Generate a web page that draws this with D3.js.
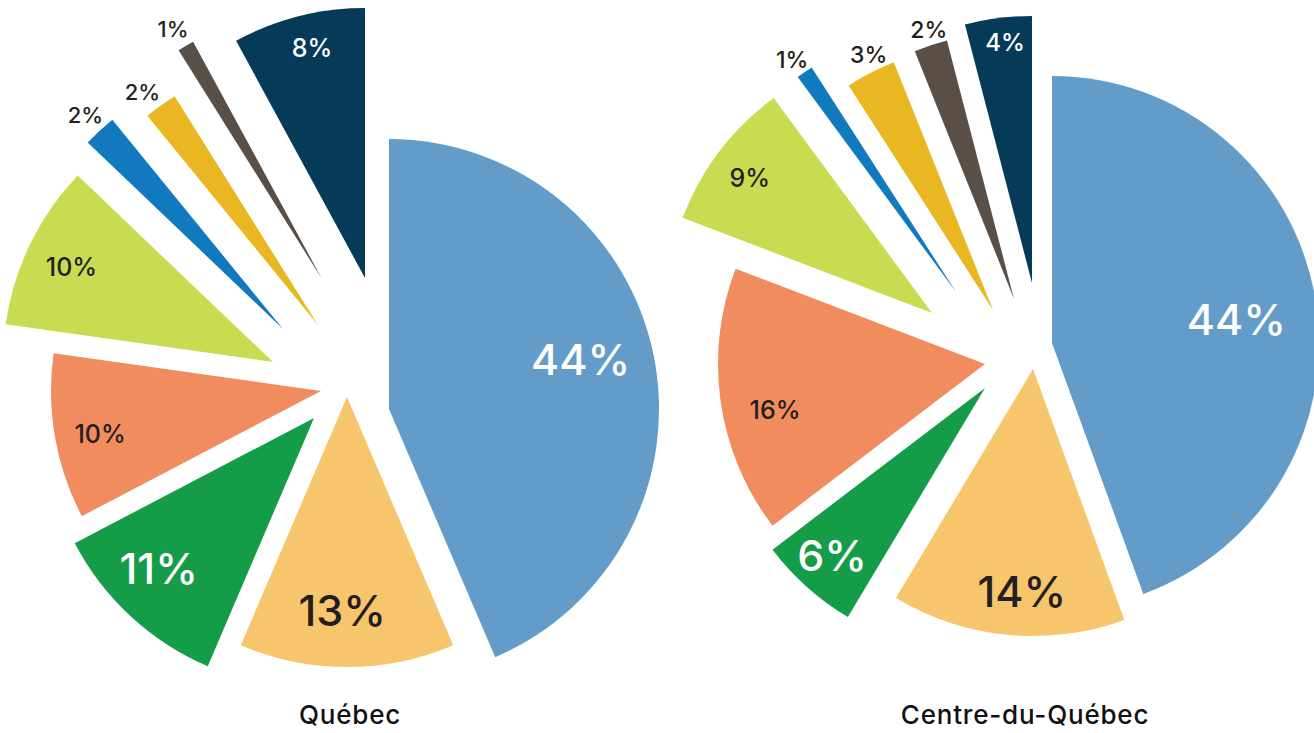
<html>
  <head>
    <title>Québec / Centre-du-Québec</title>
    <script src="https://d3js.org/d3.v7.min.js"></script>
  </head>

  <body>
    <svg id="pies" width="1314" height="733"></svg>
    <script>
      // values (percent), clockwise from 12 o'clock
      const sliceColors = ['#639cc9', '#f7c66c', '#159c49', '#f08c5e', '#c9db51', '#117abf', '#e8b722', '#594f46', '#063a59'];
      const quebecValues = [44, 13, 11, 10, 10, 2, 2, 1, 8];
      const centreValues = [44, 14, 6, 16, 9, 1, 3, 2, 4];
      const chartTitles = ['Québec', 'Centre-du-Québec'];

      // layout : where each pie sits and how far each slice was pulled out
      const layouts = [
        {
          values: quebecValues, cx: 347, cy: 386, radius: 270, titleX: 350,
          offsets: [[42, 23], [0, 11], [-33, 32], [-26, 5], [-74, -24], [-64, -57], [-29, -61], [-25, -107], [18, -108]],
          labelR: [198, 214, 216, 225, 223, 291, 292, 291, 236],
          labelRot: [-3, 1.3, 3.2, -1.2, -0.5, 0, -1.3, -0.5, 1.3],
          labelSize: [43, 43, 43, 25, 25, 22, 22, 22, 25],
          labelFill: ['#fff', '#231f20', '#fff', '#231f20', '#231f20', '#231f20', '#231f20', '#231f20', '#fff']
        },
        {
          values: centreValues, cx: 1000, cy: 340, radius: 267, titleX: 1025,
          offsets: [[52, 3], [33, 29], [-15, 48], [-15, 24], [-68, -27], [-44, -48], [-7, -30], [14, -41], [32, -57]],
          labelR: [186, 223, 227, 215, 227, 284, 284, 282, 242],
          labelRot: [2.6, -2.6, 0.5, -4.2, -0.7, -0.7, 1.3, 0.6, 0.9],
          labelSize: [43, 43, 43, 25, 25, 23, 23, 23, 24],
          labelFill: ['#fff', '#231f20', '#fff', '#231f20', '#231f20', '#231f20', '#231f20', '#231f20', '#fff']
        }
      ];

      const svg = d3.select('svg#pies');
      const pie = d3.pie().sort(null).value(d => d);

      layouts.forEach((L, k) => {
        const arc = d3.arc().innerRadius(0).outerRadius(L.radius);
        const slices = pie(L.values);
        let chartArea = svg.append('g')
                           .attr('transform', `translate(${L.cx}, ${L.cy})`);

        slices.forEach((s, i) => {
          const [ox, oy] = L.offsets[i];
          let g = chartArea.append('g')
                           .attr('transform', `translate(${ox}, ${oy})`);
          g.append('path')
           .attr('d', arc(s))
           .style('fill', sliceColors[i]);

          // label sits on the slice bisector
          const a = (s.startAngle + s.endAngle) / 2 + L.labelRot[i] * Math.PI / 180;
          g.append('text')
           .attr('class', 'label')
           .attr('x', L.labelR[i] * Math.sin(a))
           .attr('y', -L.labelR[i] * Math.cos(a))
           .attr('dy', '0.36em')
           .style('font-size', L.labelSize[i] + 'px')
           .style('fill', L.labelFill[i])
           .text(s.data + '%');
        });

        svg.append('text')
           .attr('class', 'title')
           .attr('x', L.titleX)
           .attr('y', 724)
           .text(chartTitles[k]);
      });
    </script>
  </body>

  <style>
    body {
      margin: 0;
      background: #fff;
    }
    svg {
      display: block;
    }
    .label {
      font-family: Inter, 'Noto Sans', sans-serif;
      font-weight: 500;
      text-anchor: middle;
    }
    .title {
      font-family: Inter, 'Noto Sans', sans-serif;
      font-weight: 500;
      font-size: 26px;
      letter-spacing: 0.8px;
      fill: #111;
      text-anchor: middle;
    }
  </style>
</html>
